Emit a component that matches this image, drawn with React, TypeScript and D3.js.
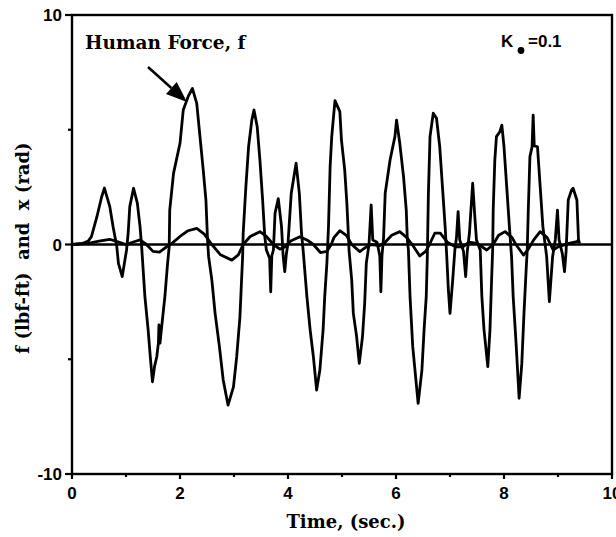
import React from 'react';
import * as d3 from 'd3';

// human force f (lbf-ft)
const forceTime = [
  0, 0.2, 0.3, 0.36, 0.46, 0.55, 0.6, 0.7, 0.76, 0.83, 0.86, 0.93, 1.01, 1.04, 1.07, 1.14, 1.21, 1.26, 1.29,
  1.31, 1.35, 1.41, 1.45, 1.49, 1.53, 1.57, 1.6, 1.61, 1.63, 1.66, 1.72, 1.77, 1.8, 1.81, 1.88, 2.0, 2.06, 2.15,
  2.23, 2.31, 2.37, 2.43, 2.48, 2.51, 2.53, 2.59, 2.65, 2.73, 2.8, 2.89, 2.99, 3.05, 3.11, 3.14, 3.16, 3.17,
  3.22, 3.27, 3.33, 3.37, 3.43, 3.48, 3.53, 3.57, 3.6, 3.66, 3.68, 3.7, 3.73, 3.76, 3.82, 3.88, 3.91, 3.94,
  3.97, 4.0, 4.06, 4.15, 4.21, 4.25, 4.28, 4.35, 4.41, 4.47, 4.53, 4.59, 4.65, 4.68, 4.72, 4.75, 4.78, 4.81,
  4.87, 4.96, 4.99, 5.05, 5.09, 5.12, 5.13, 5.18, 5.21, 5.27, 5.32, 5.38, 5.42, 5.45, 5.5, 5.54, 5.57, 5.65,
  5.7, 5.72, 5.74, 5.77, 5.8, 5.89, 5.98, 6.01, 6.07, 6.14, 6.19, 6.21, 6.23, 6.26, 6.31, 6.41, 6.48, 6.52,
  6.56, 6.58, 6.6, 6.63, 6.69, 6.75, 6.81, 6.86, 6.91, 6.94, 6.97, 7.0, 7.05, 7.09, 7.12, 7.15, 7.18, 7.25,
  7.29, 7.32, 7.36, 7.42, 7.46, 7.49, 7.56, 7.59, 7.63, 7.7, 7.74, 7.77, 7.79, 7.8, 7.83, 7.86, 7.92, 7.96,
  8.0, 8.05, 8.1, 8.14, 8.17, 8.22, 8.28, 8.33, 8.37, 8.41, 8.43, 8.45, 8.48, 8.52, 8.54, 8.56, 8.62, 8.67,
  8.72, 8.79, 8.84, 8.9, 8.95, 8.99, 9.02, 9.08, 9.12, 9.15, 9.19, 9.25, 9.28, 9.35, 9.38, 9.4,
];
const forceValue = [
  0, 0.05, 0.15, 0.34, 1.2, 2.08, 2.46, 1.65, 0.78, -0.1, -0.82, -1.4, -0.24, 0.49, 1.65, 2.45, 1.8, 0.78, -0.1,
  -0.82, -2.27, -3.72, -4.9, -5.98, -5.3, -4.89, -4.3, -3.5, -4.3, -3.6, -2.27, -0.82, -0.1, 1.5, 3.1, 4.41, 5.86, 6.44,
  6.8, 6.15, 4.7, 3.25, 1.94, 0.2, -0.53, -1.55, -3.0, -4.45, -5.9, -7.0, -6.2, -4.89, -3.15, -1.55, -0.53, 0.49,
  2.52, 4.26, 5.42, 5.86, 5.13, 3.68, 1.94, 0.34, -0.24, -0.6, -2.06, -0.5, -0.24, 1.36, 2.0, 0.78, -0.5, -1.18,
  -0.4, 0.05, 2.23, 3.54, 2.23, 0.49, -0.24, -2.27, -3.72, -4.89, -6.34, -5.47, -3.72, -2.27, -0.82, 0.78, 3.39, 4.7,
  6.27, 5.79, 4.55, 3.25, 1.8, 0.34, -0.24, -1.55, -3.0, -4.0, -5.18, -4.0, -2.56, -0.82, 0.0, 1.72, 0.2, 0.1,
  -0.5, -2.06, -0.5, 0.3, 2.23, 3.68, 4.7, 5.42, 4.41, 2.95, 1.5, 0.2, -0.24, -2.27, -4.45, -6.92, -5.47, -3.72,
  -2.27, -0.53, 2.23, 4.7, 5.72, 5.5, 4.26, 2.52, 0.78, -0.53, -1.98, -3.0, -1.55, -0.24, 0.3, 1.43, 0.2, -0.3,
  -1.4, -0.3, 0.5, 2.67, 1.2, 0.2, -0.24, -2.27, -3.72, -5.32, -3.72, -1.55, -0.24, 1.5, 3.68, 4.7, 4.9, 5.2,
  4.26, 2.52, 0.78, -0.53, -2.27, -4.16, -6.7, -5.18, -3.0, -1.11, -0.24, 1.5, 3.83, 4.26, 5.64, 4.3, 4.26, 2.52,
  0.78, -0.53, -2.49, -0.53, 0.2, 1.5, 0.2, -0.4, -1.18, -0.3, 1.94, 2.37, 2.45, 1.94, 0.2, 0.05,
];

// displacement x (rad)
const dispTime = [
  0, 0.3, 0.5, 0.7, 0.85, 1.0, 1.15, 1.26, 1.38, 1.5, 1.62, 1.75, 1.85, 2.0, 2.15, 2.31, 2.45, 2.59, 2.75, 2.96,
  3.08, 3.17, 3.3, 3.48, 3.6, 3.73, 3.85, 3.95, 4.05, 4.22, 4.35, 4.47, 4.6, 4.72, 4.8, 4.85, 4.96, 5.08, 5.18,
  5.33, 5.45, 5.55, 5.7, 5.8, 5.92, 6.07, 6.2, 6.3, 6.44, 6.55, 6.62, 6.72, 6.82, 6.95, 7.1, 7.24, 7.35, 7.5,
  7.68, 7.8, 7.9, 8.02, 8.15, 8.22, 8.36, 8.45, 8.55, 8.67, 8.8, 8.91, 9.0, 9.2, 9.35, 9.38,
];
const dispValue = [
  0, 0.05, 0.15, 0.22, 0.12, 0.0, 0.12, 0.2, 0.0, -0.3, -0.33, -0.1, 0.05, 0.35, 0.6, 0.7, 0.45, 0.0, -0.45, -0.68,
  -0.45, 0.0, 0.35, 0.56, 0.35, 0.0, -0.2, -0.1, 0.15, 0.34, 0.2, 0.0, -0.35, -0.3, 0.0, 0.3, 0.6, 0.4, 0.0,
  -0.31, -0.1, 0.0, -0.05, 0.1, 0.4, 0.56, 0.3, 0.0, -0.5, -0.3, 0.0, 0.5, 0.5, 0.1, -0.1, -0.1, 0.1, 0.05,
  -0.24, 0.0, 0.4, 0.56, 0.3, 0.0, -0.46, -0.2, 0.2, 0.56, 0.3, -0.24, -0.1, 0.05, 0.12, 0.2,
];

const xMajor = [0, 2, 4, 6, 8, 10];
const xMinor = [1, 3, 5, 7, 9];
const yMajor = [10, 0, -10];
const yMinor = [5, -5];

const W = 616;
const H = 537;
const margin = { left: 72, right: 4, top: 15, bottom: 63 };

export default function App() {
  const x = d3.scaleLinear().domain([0, 10]).range([margin.left, W - margin.right]);
  const y = d3.scaleLinear().domain([-10, 10]).range([H - margin.bottom, margin.top]);

  const force = forceTime.map((t, i) => [t, forceValue[i]] as [number, number]);
  const disp = dispTime.map((t, i) => [t, dispValue[i]] as [number, number]);

  const line = d3.line<[number, number]>()
    .x(d => x(d[0]))
    .y(d => y(d[1]));

  const sans = 'Liberation Sans, Arial, sans-serif';
  const serif = 'DejaVu Serif, Liberation Serif, serif';

  // arrow from label to peak
  const ax0 = 148, ay0 = 67, ax1 = 187, ay1 = 102;
  const ang = Math.atan2(ay1 - ay0, ax1 - ax0);
  const headLen = 21, headW = 8;
  const bx = ax1 - headLen * Math.cos(ang);
  const by = ay1 - headLen * Math.sin(ang);
  const head = [
    [ax1, ay1],
    [bx - headW * Math.sin(ang), by + headW * Math.cos(ang)],
    [bx + headW * Math.sin(ang), by - headW * Math.cos(ang)],
  ];

  return (
    <svg width={W} height={H} style={{ position: 'absolute', left: 0, top: 0, background: '#fff' }}>
      <rect width={W} height={H} fill="#fff" />

      {/* frame */}
      <rect
        x={x(0)} y={y(10)} width={x(10) - x(0)} height={y(-10) - y(10)}
        fill="none" stroke="#000" strokeWidth={2.4}
      />

      {/* zero line */}
      <line x1={x(0)} x2={x(10)} y1={y(0)} y2={y(0)} stroke="#000" strokeWidth={2.4} />

      {/* ticks */}
      {xMajor.map(t => (
        <line key={'xM' + t} x1={x(t)} x2={x(t)} y1={y(-10)} y2={y(-10) + 5} stroke="#000" strokeWidth={2.2} />
      ))}
      {xMinor.map(t => (
        <line key={'xm' + t} x1={x(t)} x2={x(t)} y1={y(-10)} y2={y(-10) + 3} stroke="#000" strokeWidth={2.2} />
      ))}
      {yMajor.map(v => (
        <line key={'yM' + v} x1={x(0) - 7} x2={x(0)} y1={y(v)} y2={y(v)} stroke="#000" strokeWidth={2.2} />
      ))}
      {yMinor.map(v => (
        <line key={'ym' + v} x1={x(0) - 4} x2={x(0)} y1={y(v)} y2={y(v)} stroke="#000" strokeWidth={2.2} />
      ))}

      {/* tick labels */}
      {xMajor.map(t => (
        <text key={'xl' + t} x={x(t)} y={y(-10) + 25} textAnchor="middle"
          fontFamily={sans} fontWeight="bold" fontSize={17}>{t}</text>
      ))}
      {yMajor.map(v => (
        <text key={'yl' + v} x={x(0) - 10} y={y(v) + 6} textAnchor="end"
          fontFamily={sans} fontWeight="bold" fontSize={17}>{v}</text>
      ))}

      {/* series */}
      <path d={line(disp) || ''} fill="none" stroke="#000" strokeWidth={2.8} strokeLinejoin="round" />
      <path d={line(force) || ''} fill="none" stroke="#000" strokeWidth={2.8} strokeLinejoin="round" />

      {/* annotations */}
      <text x={85} y={49} fontFamily={serif} fontWeight="bold" fontSize={18.5}>Human Force, f</text>
      <line x1={ax0} y1={ay0} x2={bx} y2={by} stroke="#000" strokeWidth={2.5} />
      <polygon points={head.map(p => p.join(',')).join(' ')} fill="#000" />

      <text x={501} y={47} fontFamily={sans} fontWeight="bold" fontSize={17}>K</text>
      <circle cx={521} cy={50.5} r={3.4} fill="#000" />
      <text x={528} y={47} fontFamily={sans} fontWeight="bold" fontSize={17}>=0.1</text>

      {/* axis titles */}
      <text x={346} y={528} textAnchor="middle" fontFamily={serif} fontWeight="bold" fontSize={18}>
        Time, (sec.)
      </text>
      <text
        transform={`translate(29, 248) rotate(-90)`}
        textAnchor="middle" fontFamily={serif} fontWeight="bold" fontSize={18}
        style={{ whiteSpace: 'pre' }}
      >
        {'f (lbf-ft)  and  x (rad)'}
      </text>
    </svg>
  );
}
